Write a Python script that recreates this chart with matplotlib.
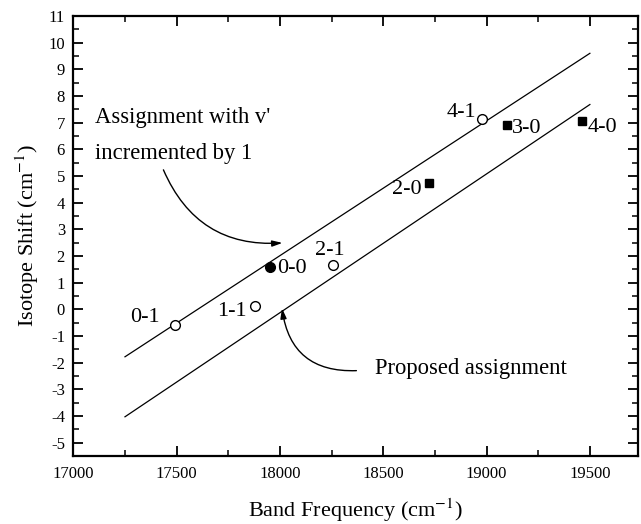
import matplotlib
matplotlib.use("Agg")
import matplotlib.pyplot as plt
from matplotlib.ticker import MultipleLocator

# ---- data ----
band_freq = [17492, 17880, 17952, 18258, 18720, 18980, 19097, 19460]
iso_shift = [-0.58, 0.12, 1.57, 1.67, 4.73, 7.13, 6.92, 7.08]
band_labels = ["0-1", "1-1", "0-0", "2-1", "2-0", "4-1", "3-0", "4-0"]
band_marker = ["o", "o", "o", "o", "s", "o", "s", "s"]
band_filled = [False, False, True, False, True, False, True, True]

upper_fit_x = [17250, 19500]
upper_fit_y = [-1.78, 9.60]
lower_fit_x = [17250, 19500]
lower_fit_y = [-4.03, 7.68]

x_ticks = [17000, 17500, 18000, 18500, 19000, 19500]
y_ticks = list(range(-5, 12))

# label offsets (pixels, baseline) and alignment
label_off = [(-15, 3), (-8, -10), (7, -6), (-3, 10), (-7, -11), (-6, 2), (5, -8), (6, -11)]
label_ha = ["right", "right", "left", "center", "right", "right", "left", "left"]

plt.rcParams["font.family"] = ["Liberation Serif", "DejaVu Serif"]
plt.rcParams["mathtext.fontset"] = "stix"
plt.rcParams["axes.unicode_minus"] = False

fig = plt.figure(figsize=(6.41, 5.24), dpi=100)
ax = fig.add_axes([0.1144, 0.1298, 0.8816, 0.8397])

ax.plot(upper_fit_x, upper_fit_y, color="black", lw=0.9)
ax.plot(lower_fit_x, lower_fit_y, color="black", lw=0.9)

for x, y, m, f in zip(band_freq, iso_shift, band_marker, band_filled):
    ms = 7 if m == "o" else 6.2
    ax.plot([x], [y], marker=m, ms=ms, mec="black", mew=1.0,
            mfc="black" if f else "white", linestyle="none", zorder=3)

for x, y, lab, off, ha in zip(band_freq, iso_shift, band_labels, label_off, label_ha):
    ax.annotate(lab, (x, y), xytext=off, textcoords="offset pixels",
                ha=ha, va="baseline", fontsize=16)

# annotations
ax.text(17105, 6.98, "Assignment with v'", fontsize=16.3, ha="left", va="baseline")
ax.text(17105, 5.63, "incremented by 1", fontsize=16.3, ha="left", va="baseline")
ax.annotate("", xy=(18012, 2.49), xytext=(17436, 5.23),
            arrowprops=dict(arrowstyle="-|>,head_length=0.6,head_width=0.18",
                            color="black", lw=1.0,
                            connectionstyle="arc3,rad=0.35", shrinkA=0, shrinkB=0))
ax.text(18462, -2.42, "Proposed assignment", fontsize=16.3, ha="left", va="baseline")
ax.annotate("", xy=(18010, 0.04), xytext=(18370, -2.3),
            arrowprops=dict(arrowstyle="-|>,head_length=0.6,head_width=0.18",
                            color="black", lw=1.0,
                            connectionstyle="arc3,rad=-0.45", shrinkA=0, shrinkB=0))

ax.set_xlim(17000, 19735)
ax.set_ylim(-5.5, 11)
ax.set_xticks(x_ticks)
ax.set_yticks(y_ticks)
ax.xaxis.set_minor_locator(MultipleLocator(250))
ax.yaxis.set_minor_locator(MultipleLocator(0.5))
ax.tick_params(which="both", direction="in", top=True, right=True, labelsize=12)
ax.tick_params(which="major", length=7, width=1.3)
ax.tick_params(which="minor", length=4, width=1.1)
ax.tick_params(axis="x", pad=7)
ax.tick_params(axis="y", pad=6)
for s in ax.spines.values():
    s.set_linewidth(1.6)

ax.set_xlabel("Band Frequency (cm$^{-1}$)", fontsize=16, labelpad=11)
ax.set_ylabel("Isotope Shift (cm$^{-1}$)", fontsize=16, labelpad=5)

fig.savefig("out.png", dpi=100)
